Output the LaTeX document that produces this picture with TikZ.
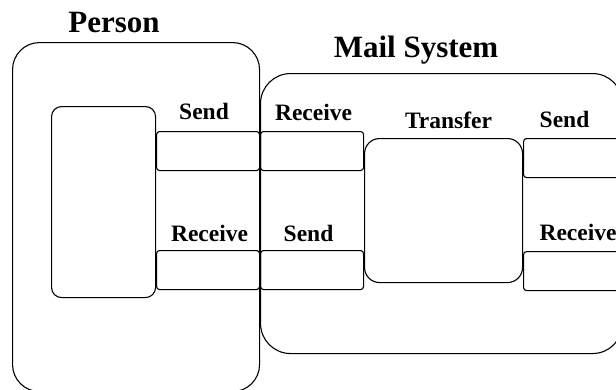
\documentclass[tikz,border=0pt]{standalone}
\usepackage{fontspec}
\setmainfont{Liberation Serif}
\usetikzlibrary{positioning}

\tikzset{
  box/.style={draw, line width=1.1pt, anchor=north west, inner sep=0pt},
  port/.style={box, rounded corners=3pt, minimum width=103pt, minimum height=39pt},
  lbl/.style={inner sep=0pt, font=\fontsize{23.5}{26}\selectfont\bfseries},
  title/.style={inner sep=0pt, font=\fontsize{31}{34}\selectfont\bfseries},
}

\begin{document}
\begin{tikzpicture}[x=1pt, y=1pt]
        \useasboundingbox (0,0) rectangle (616,-389);
        \clip (0,0) rectangle (616,-389);

        % the two systems
        \node[box, rounded corners=27pt, minimum width=247pt, minimum height=349pt] (person) at (12,-42) {};
        \node[box, rounded corners=30pt, minimum width=362pt, minimum height=280pt] (mail) at (260,-73) {};
        \node[title, above=9pt of person, xshift=-22pt] (personlbl) {Person};
        \node[title, anchor=base] (maillbl) at (416,-57) {Mail System};

        % inner parts
        \node[box, rounded corners=10pt, minimum width=104pt, minimum height=191pt] (user) at (51,-106) {};
        \node[box, rounded corners=15pt, minimum width=158pt, minimum height=144pt] (transfer) at (364,-138) {};

        % ports
        \node[port] (psend) at (156,-131) {};
        \node[port] (precv) at (156,-250) {};
        \node[port] (mrecv) at (260,-131) {};
        \node[port] (msend) at (260,-250) {};
        \node[port] (rsend) at (523,-138) {};
        \node[port] (rrecv) at (523,-251) {};

        % labels
        \node[lbl, above=11pt of psend, xshift=-4pt] (psendlbl) {Send};
        \node[lbl, above=8pt of precv, xshift=1.5pt] (precvlbl) {Receive};
        \node[lbl, above=10pt of mrecv, xshift=1.5pt] (mrecvlbl) {Receive};
        \node[lbl, above=8pt of msend, xshift=-3.5pt] (msendlbl) {Send};
        \node[lbl, above=9pt of transfer, xshift=5pt] (transferlbl) {Transfer};
        \node[lbl, above=10pt of rsend, xshift=-10.5pt] (rsendlbl) {Send};
        \node[lbl, above=10pt of rrecv, xshift=3pt] (rrecvlbl) {Receive};
\end{tikzpicture}
\end{document}
